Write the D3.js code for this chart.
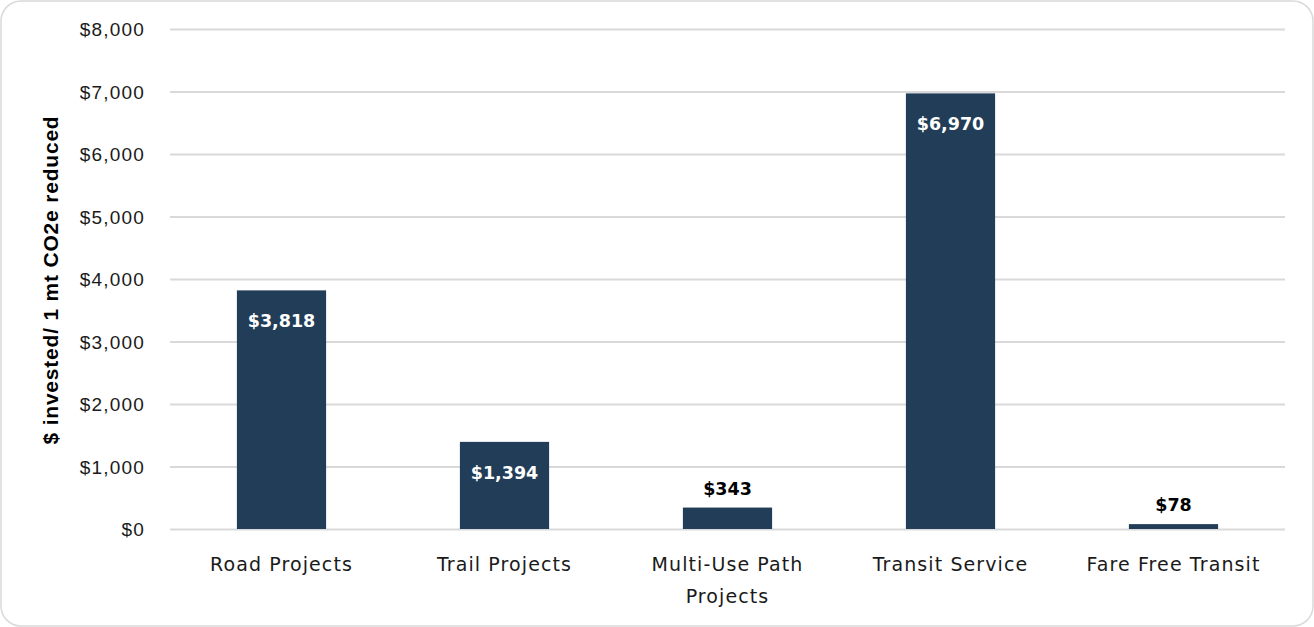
<!DOCTYPE html>
<html><head><meta charset="utf-8">
<script src="https://cdn.jsdelivr.net/npm/d3@7"></script>
<style>
html,body{margin:0;padding:0;background:#fff;}
svg{display:block;font-family:"Liberation Sans",Arial,sans-serif;}
</style></head>
<body><svg id="c" width="1314" height="627"></svg>
<script>
const categories = ["Road Projects","Trail Projects","Multi-Use Path Projects","Transit Service","Fare Free Transit"];
const categoryLines = [["Road Projects"],["Trail Projects"],["Multi-Use Path","Projects"],["Transit Service"],["Fare Free Transit"]];
const values = [3818, 1394, 343, 6970, 78];
const valueLabels = ["$3,818","$1,394","$343","$6,970","$78"];
const yTicks = [0,1000,2000,3000,4000,5000,6000,7000,8000];
const yTitle = "$ invested/ 1 mt CO2e reduced";

const svg = d3.select("#c");
svg.append("rect").attr("x",1).attr("y",1).attr("width",1312).attr("height",625)
  .attr("rx",20).attr("fill","#fff").attr("stroke","#d9d9d9").attr("stroke-width",1.5);

const pL=170, pR=1285, pT=29, pB=529;
const x = d3.scaleBand().domain(categories).range([pL,pR]).paddingInner(0.6).paddingOuter(0.3);
const y = d3.scaleLinear().domain([0,8000]).range([pB,pT]);

const fmt = d => "$" + d3.format(",")(d);
const ya = svg.append("g").attr("transform",`translate(${pL},0)`)
  .call(d3.axisLeft(y).tickValues(yTicks).tickFormat(fmt).tickSize(-(pR-pL)).tickPadding(25));
ya.select(".domain").remove();
ya.selectAll(".tick line").attr("stroke","#d9d9d9").attr("stroke-width",2);
ya.selectAll(".tick text").attr("fill","#1a1a1a").attr("font-size",19)
  .attr("letter-spacing",1.2).attr("font-family","Liberation Sans, Arial, sans-serif").attr("dy","0.35em");

svg.append("g").selectAll("rect").data(values).join("rect")
  .attr("x",(d,i)=>x(categories[i])).attr("width",x.bandwidth())
  .attr("y",d=>y(d)).attr("height",d=>pB-y(d)).attr("fill","#213d58");

svg.append("g").selectAll("text").data(values).join("text")
  .attr("x",(d,i)=>x(categories[i])+x.bandwidth()/2)
  .attr("y",d=> (pB-y(d))>60 ? y(d)+37 : y(d)-13)
  .attr("text-anchor","middle").attr("font-weight","bold").attr("font-size",17.5)
  .attr("font-family","DejaVu Sans, sans-serif")
  .attr("fill",d=> (pB-y(d))>60 ? "#fff" : "#000")
  .text((d,i)=>valueLabels[i]);

const xl = svg.append("g");
categories.forEach((c,i)=>{
  const t = xl.append("text").attr("x",x(c)+x.bandwidth()/2).attr("y",571)
    .attr("text-anchor","middle").attr("font-size",19).attr("letter-spacing",1.1)
    .attr("font-family","DejaVu Sans, sans-serif").attr("fill","#1a1a1a");
  categoryLines[i].forEach((ln,j)=>{
    t.append("tspan").attr("x",x(c)+x.bandwidth()/2).attr("dy",j?32:0).text(ln);
  });
});

svg.append("text").attr("transform",`translate(58,${(pT+pB)/2+1}) rotate(-90)`)
  .attr("text-anchor","middle").attr("font-weight","bold").attr("font-size",21)
  .attr("letter-spacing",0.8).attr("fill","#000")
  .text(yTitle);
</script></body></html>
